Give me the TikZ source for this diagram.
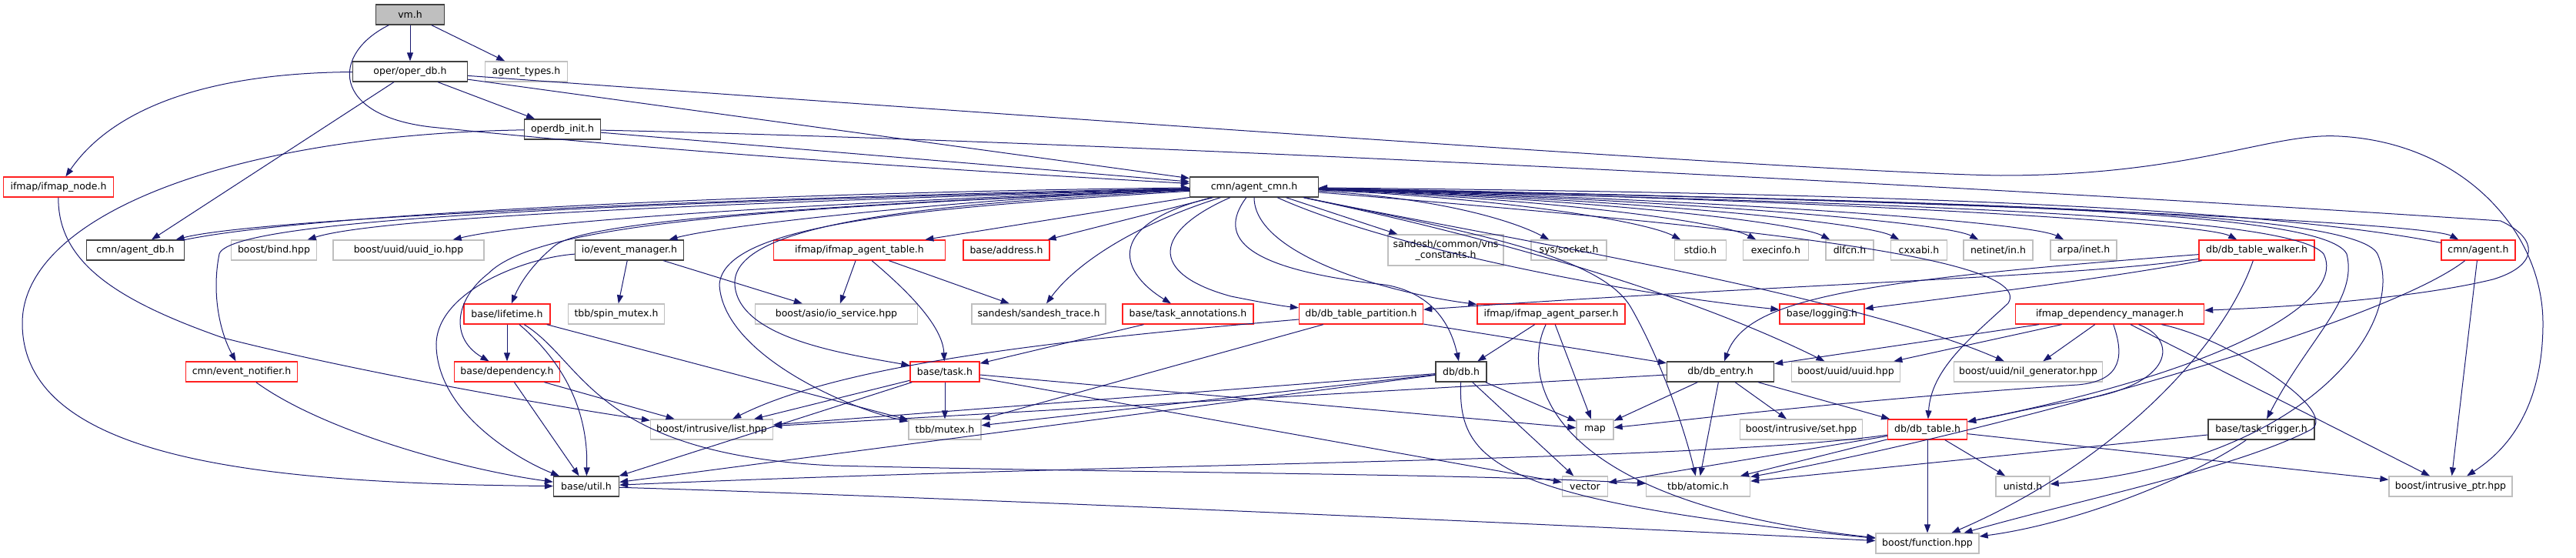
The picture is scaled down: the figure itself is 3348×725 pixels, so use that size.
\documentclass[tikz,border=0pt]{standalone}
\usepackage{fontspec}
\setmainfont{DejaVu Sans}
\usepackage{tikz}
\usetikzlibrary{arrows.meta,positioning,calc}
\definecolor{dxEdge}{HTML}{191970}
\definecolor{dxRed}{HTML}{FF2020}
\definecolor{dxGrey}{HTML}{BFBFBF}
\definecolor{dxDark}{HTML}{404040}
\tikzset{
  hdr/.style={rectangle, draw=dxDark, fill=white, line width=1.3pt, minimum height=26pt, inner xsep=3pt, inner ysep=2pt, font=\fontsize{12.5}{14.5}\selectfont},
  hdrred/.style={hdr, draw=dxRed},
  hdrext/.style={hdr, draw=dxGrey},
  hdrroot/.style={hdr, fill=dxGrey},
  dep/.style={-{Triangle[length=11pt,width=8pt]}, draw=dxEdge, line width=1pt}
}
\begin{document}
\begin{tikzpicture}[x=1pt,y=-1pt]
  \useasboundingbox (0,0) rectangle (3348,725);
  % top rows
  \node[hdrroot, minimum width=89pt] (vm) at (533,19) {vm.h};
  \node[hdr, minimum width=149pt] (operdb) at (533,93) {oper/oper\_db.h};
  \node[hdrext, minimum width=107pt] (agenttypes) at (684,93) {agent\_types.h};
  \node[hdr, minimum width=99pt] (operdbinit) at (731,168) {operdb\_init.h};
  \node[hdrred, minimum width=143pt] (ifmapnode) at (76,243) {ifmap/ifmap\_node.h};
  \node[hdr, minimum width=167pt] (agentcmn) at (1630,243) {cmn/agent\_cmn.h};
  % row 3
  \node[hdr, minimum width=127pt] (agentdb) at (176,325) {cmn/agent\_db.h};
  \node[hdrext, minimum width=111pt] (bind) at (356,325) {boost/bind.hpp};
  \node[hdrext, minimum width=196pt] (uuidio) at (531,325) {boost/uuid/uuid\_io.hpp};
  \node[hdr, minimum width=141pt] (eventmgr) at (818,325) {io/event\_manager.h};
  \node[hdrred, minimum width=223pt] (ifmaptable) at (1117,325) {ifmap/ifmap\_agent\_table.h};
  \node[hdrred, minimum width=112pt] (address) at (1308,325) {base/address.h};
  \node[hdrext, minimum width=150pt, minimum height=40pt, align=center] (vnsconst) at (1879,325) {sandesh/common/vns\\\_constants.h};
  \node[hdrext, minimum width=98pt] (socket) at (2039,325) {sys/socket.h};
  \node[hdrext, minimum width=67pt] (stdio) at (2210,325) {stdio.h};
  \node[hdrext, minimum width=85pt] (execinfo) at (2308,325) {execinfo.h};
  \node[hdrext, minimum width=62pt] (dlfcn) at (2404,325) {dlfcn.h};
  \node[hdrext, minimum width=73pt] (cxxabi) at (2494,325) {cxxabi.h};
  \node[hdrext, minimum width=90pt] (netinet) at (2597,325) {netinet/in.h};
  \node[hdrext, minimum width=86pt] (arpa) at (2708,325) {arpa/inet.h};
  \node[hdrred, minimum width=150pt] (walker) at (2933,325) {db/db\_table\_walker.h};
  \node[hdrred, minimum width=96pt] (agent) at (3221,325) {cmn/agent.h};
  % row 4
  \node[hdrred, minimum width=112pt] (lifetime) at (659,408) {base/lifetime.h};
  \node[hdrext, minimum width=125pt] (spinmutex) at (801,408) {tbb/spin\_mutex.h};
  \node[hdrext, minimum width=211pt] (ioservice) at (1087,408) {boost/asio/io\_service.hpp};
  \node[hdrext, minimum width=174pt] (sandeshtrace) at (1350,408) {sandesh/sandesh\_trace.h};
  \node[hdrred, minimum width=170pt] (taskann) at (1544,408) {base/task\_annotations.h};
  \node[hdrred, minimum width=161pt] (partition) at (1769,408) {db/db\_table\_partition.h};
  \node[hdrred, minimum width=192pt] (parser) at (2016,408) {ifmap/ifmap\_agent\_parser.h};
  \node[hdrred, minimum width=110pt] (logging) at (2368,408) {base/logging.h};
  \node[hdrred, minimum width=245pt] (depmgr) at (2742,408) {ifmap\_dependency\_manager.h};
  % row 5
  \node[hdrred, minimum width=145pt] (eventnotifier) at (314,483) {cmn/event\_notifier.h};
  \node[hdrred, minimum width=137pt] (dependency) at (659,483) {base/dependency.h};
  \node[hdrred, minimum width=90pt] (task) at (1228,483) {base/task.h};
  \node[hdr, minimum width=66pt] (db) at (1899,483) {db/db.h};
  \node[hdr, minimum width=139pt] (dbentry) at (2236,483) {db/db\_entry.h};
  \node[hdrext, minimum width=141pt] (uuid) at (2399,483) {boost/uuid/uuid.hpp};
  \node[hdrext, minimum width=193pt] (nilgen) at (2636,483) {boost/uuid/nil\_generator.hpp};
  % row 6
  \node[hdrext, minimum width=159pt] (list) at (925,558) {boost/intrusive/list.hpp};
  \node[hdrext, minimum width=94pt] (mutex) at (1228,558) {tbb/mutex.h};
  \node[hdrext, minimum width=48pt] (map) at (2073,558) {map};
  \node[hdrext, minimum width=159pt] (set) at (2341,558) {boost/intrusive/set.hpp};
  \node[hdrred, minimum width=103pt] (dbtable) at (2505,558) {db/db\_table.h};
  \node[hdr, minimum width=138pt] (tasktrigger) at (2939,558) {base/task\_trigger.h};
  % row 7 and 8
  \node[hdr, minimum width=85pt] (util) at (762,632) {base/util.h};
  \node[hdrext, minimum width=59pt] (vector) at (2060,632) {vector};
  \node[hdrext, minimum width=135pt] (atomic) at (2207,632) {tbb/atomic.h};
  \node[hdrext, minimum width=70pt] (unistd) at (2629,632) {unistd.h};
  \node[hdrext, minimum width=160pt] (iptr) at (3185,632) {boost/intrusive\_ptr.hpp};
  \node[hdrext, minimum width=134pt] (function) at (2505,706) {boost/function.hpp};

  % vm.h, oper_db.h, operdb_init.h
  \draw[dep] (vm) -- (operdb);
  \draw[dep] (vm) -- (agenttypes);
  \draw[dep] (vm) .. controls (430,70) and (430,150) .. (560,165) .. controls (900,200) and (1300,225) .. (agentcmn);
  \draw[dep] (operdb) .. controls (250,95) and (140,150) .. (ifmapnode);
  \draw[dep] (operdb) -- (agentdb);
  \draw[dep] (operdb) -- (operdbinit);
  \draw[dep] (operdb) -- (agentcmn);
  \draw[dep] (operdb) .. controls (1600,170) and (2400,225) .. (2600,228) .. controls (2850,228) and (2950,172) .. (3040,177) .. controls (3200,185) and (3305,300) .. (3305,420) .. controls (3305,540) and (3250,590) .. (iptr);
  \draw[dep] (operdbinit) -- (agentcmn);
  \draw[dep] (operdbinit) .. controls (1500,185) and (2700,250) .. (3250,287) .. controls (3300,310) and (3300,345) .. (3240,363) .. controls (3150,385) and (3000,398) .. (depmgr);
  \draw[dep] (operdbinit) .. controls (300,175) and (29,280) .. (29,420) .. controls (29,600) and (350,628) .. (util);
  \draw[dep] (ifmapnode) .. controls (75,340) and (150,390) .. (290,439) .. controls (450,480) and (700,525) .. (list);

  % agent_cmn.h, left side
  \draw[dep] (agentcmn) .. controls (900,258) and (330,285) .. (agentdb);
  \draw[dep] (agentdb) .. controls (400,278) and (1000,250) .. (agentcmn);
  \draw[dep] (agentcmn) .. controls (900,262) and (300,280) .. (285,330) .. controls (275,380) and (285,430) .. (eventnotifier);
  \draw[dep] (agentcmn) .. controls (1000,262) and (500,280) .. (bind);
  \draw[dep] (agentcmn) .. controls (1100,262) and (700,285) .. (uuidio);
  \draw[dep] (agentcmn) .. controls (1300,255) and (950,290) .. (eventmgr);
  \draw[dep] (agentcmn) -- (ifmaptable);
  \draw[dep] (agentcmn) -- (address);
  \draw[dep] (agentcmn) .. controls (1100,265) and (760,285) .. (720,320) .. controls (690,345) and (675,370) .. (lifetime);
  \draw[dep] (agentcmn) .. controls (1000,270) and (700,290) .. (635,355) .. controls (590,390) and (585,440) .. (dependency);
  \draw[dep] (agentcmn) .. controls (1200,265) and (950,290) .. (955,370) .. controls (960,440) and (1100,460) .. (task);
  \draw[dep] (agentcmn) .. controls (1200,270) and (940,290) .. (935,370) .. controls (940,460) and (1100,530) .. (mutex);
  \draw[dep] (agentcmn) .. controls (1480,290) and (1400,340) .. (sandeshtrace);
  \draw[dep] (agentcmn) .. controls (1440,290) and (1450,350) .. (taskann);
  \draw[dep] (agentcmn) .. controls (1500,300) and (1490,355) .. (1600,385) .. controls (1650,395) and (1670,398) .. (partition);
  \draw[dep] (agentcmn) .. controls (1580,310) and (1620,350) .. (1800,370) .. controls (1860,380) and (1885,420) .. (db);
  \draw[dep] (agentcmn) .. controls (1630,330) and (1800,380) .. (parser);

  % agent_cmn.h, right side
  \draw[dep] (agentcmn) -- (vnsconst);
  \foreach \t/\x in {socket/2039,stdio/2210,execinfo/2308,dlfcn/2404,cxxabi/2494,netinet/2597,arpa/2708,walker/2933,agent/3221}{
    \draw[dep] (agentcmn) .. controls ({(1714+\x)/2},258) and ({\x-70},288) .. (\t);
  }
  \draw[dep] (agentcmn) .. controls (1800,320) and (2100,380) .. (logging);
  \draw[dep] (agentcmn) .. controls (1850,290) and (2150,360) .. (uuid);
  \draw[dep] (agentcmn) .. controls (1900,300) and (2400,380) .. (nilgen);
  \draw[dep] (agentcmn) .. controls (1900,300) and (2080,330) .. (2120,400) .. controls (2160,470) and (2190,560) .. (atomic);
  \draw[dep] (agentcmn) .. controls (2200,290) and (2650,330) .. (2610,394) .. controls (2560,440) and (2510,480) .. (dbtable);
  \draw[dep] (agentcmn) .. controls (2500,265) and (2980,280) .. (3020,330) .. controls (3050,390) and (2900,480) .. (dbtable);
  \draw[dep] (agentcmn) .. controls (2500,262) and (3020,270) .. (3050,330) .. controls (3065,390) and (3000,440) .. (tasktrigger);
  \draw[dep] (agentcmn) .. controls (2500,262) and (3060,270) .. (3090,330) .. controls (3130,420) and (3000,600) .. (unistd);
  \draw[dep] (agent) .. controls (2900,262) and (2300,250) .. (agentcmn);

  % middle layers
  \draw[dep] (eventmgr) -- (spinmutex);
  \draw[dep] (eventmgr) -- (ioservice);
  \draw[dep] (eventmgr) .. controls (680,335) and (565,380) .. (567,450) .. controls (570,540) and (680,600) .. (util);
  \draw[dep] (ifmaptable) -- (ioservice);
  \draw[dep] (ifmaptable) -- (sandeshtrace);
  \draw[dep] (ifmaptable) .. controls (1170,370) and (1225,420) .. (task);
  \draw[dep] (taskann) -- (task);
  \draw[dep] (lifetime) -- (dependency);
  \draw[dep] (lifetime) .. controls (720,460) and (765,520) .. (util);
  \draw[dep] (lifetime) -- (mutex);
  \draw[dep] (lifetime) .. controls (760,470) and (770,590) .. (1083,605) .. controls (1500,615) and (1900,615) .. (atomic);
  \draw[dep] (dependency) -- (list);
  \draw[dep] (dependency) -- (util);
  \draw[dep] (eventnotifier) .. controls (420,560) and (600,610) .. (util);
  \foreach \t in {mutex,list,util,map,vector}{\draw[dep] (task) -- (\t);}
  \draw[dep] (partition) -- (dbentry);
  \draw[dep] (partition) .. controls (1400,440) and (1100,470) .. (list);
  \draw[dep] (partition) -- (mutex);
  \foreach \t in {list,mutex,util,map,vector}{\draw[dep] (db) -- (\t);}
  \draw[dep] (db) .. controls (1895,600) and (1940,650) .. (function);
  \draw[dep] (parser) -- (db);
  \draw[dep] (parser) -- (map);
  \draw[dep] (parser) .. controls (1980,480) and (1990,650) .. (function);
  \draw[dep] (walker) .. controls (2700,360) and (2300,370) .. (partition);
  \draw[dep] (walker) .. controls (2750,360) and (2550,385) .. (logging);
  \draw[dep] (walker) .. controls (2400,365) and (2270,390) .. (dbentry);
  \draw[dep] (walker) .. controls (2890,450) and (2750,600) .. (function);
  \foreach \t in {dbentry,uuid,nilgen,iptr}{\draw[dep] (depmgr) -- (\t);}
  \draw[dep] (depmgr) .. controls (2760,460) and (2760,495) .. (2700,500) .. controls (2400,520) and (2200,545) .. (map);
  \draw[dep] (depmgr) .. controls (2830,440) and (2830,500) .. (2700,520) .. controls (2640,530) and (2600,540) .. (dbtable);
  \draw[dep] (depmgr) .. controls (2900,440) and (3050,540) .. (3000,560) .. controls (2900,610) and (2700,650) .. (function);
  \foreach \t in {list,map,set,dbtable,atomic}{\draw[dep] (dbentry) -- (\t);}
  \foreach \t in {vector,atomic,unistd,function,iptr}{\draw[dep] (dbtable) -- (\t);}
  \draw[dep] (dbtable) .. controls (2200,600) and (1500,600) .. (util);
  \draw[dep] (tasktrigger) -- (atomic);
  \draw[dep] (tasktrigger) .. controls (2850,620) and (2700,680) .. (function);
  \draw[dep] (agent) -- (iptr);
  \draw[dep] (agent) .. controls (3100,420) and (2600,560) .. (atomic);
  \draw[dep] (util) .. controls (1200,645) and (2000,680) .. (function);
\end{tikzpicture}
\end{document}
